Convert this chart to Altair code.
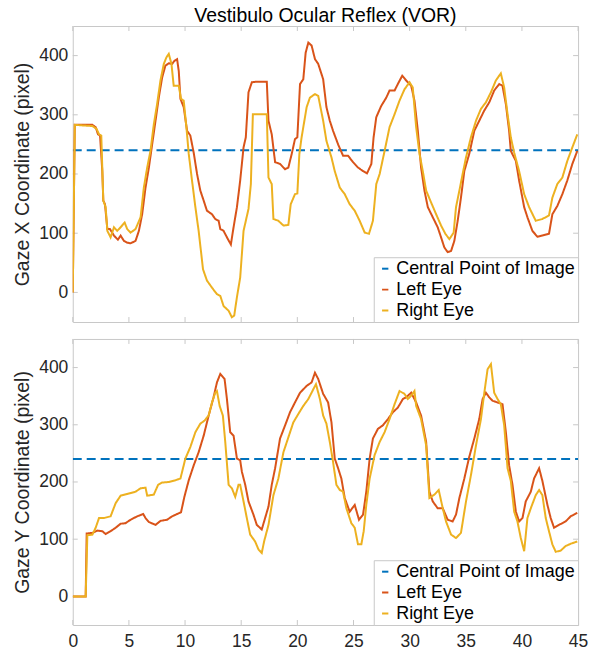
import altair as alt
import pandas as pd

FONT = "Liberation Sans"
BOX = "#c8c8c8"
TXT = "#262626"

X_TICKS = [0, 5, 10, 15, 20, 25, 30, 35, 40, 45]
Y_TICKS = [0, 100, 200, 300, 400]
CENTRAL = 240
SERIES = ["Central Point of Image", "Left Eye", "Right Eye"]
COLORS = ["#0072BD", "#D95319", "#EDB120"]
TITLE = "Vestibulo Ocular Reflex (VOR)"
YTITLE_TOP = "Gaze X Coordinate (pixel)"
YTITLE_BOT = "Gaze Y Coordinate (pixel)"

# (time, value) pairs
top_left = [
    (0.00, 0), (0.18, 283), (1.75, 283), (2.04, 279), (2.25, 267), (2.43, 265), (2.63, 205), (2.72, 155),
    (2.87, 149), (3.08, 107), (3.31, 107), (3.67, 96), (4.02, 89), (4.26, 96), (4.56, 87), (4.85, 84),
    (5.15, 83), (5.59, 87), (5.89, 104), (6.18, 132), (6.48, 177), (6.78, 211), (7.07, 250), (7.37, 290),
    (7.66, 329), (7.96, 363), (8.25, 383), (8.55, 387), (8.85, 386), (9.05, 391), (9.29, 394), (9.44, 374),
    (9.59, 327), (9.88, 313), (10.18, 273), (10.47, 265), (10.77, 236), (11.07, 200), (11.36, 172),
    (11.66, 155), (11.95, 138), (12.40, 132), (12.69, 124), (12.99, 121), (13.14, 107), (13.43, 104),
    (13.73, 93), (14.08, 81), (14.32, 110), (14.62, 144), (14.91, 189), (15.21, 245), (15.41, 262),
    (15.65, 338), (15.95, 355), (16.39, 356), (17.28, 356), (17.43, 290), (17.72, 267), (18.02, 220),
    (18.46, 217), (18.91, 208), (19.20, 211), (19.50, 234), (19.79, 259), (20.00, 262), (20.24, 352),
    (20.53, 360), (20.74, 405), (20.98, 422), (21.27, 417), (21.57, 394), (21.86, 386),
    (22.30, 360), (22.59, 313), (22.89, 290), (23.18, 273), (23.63, 250), (24.07, 231), (24.51, 231),
    (24.96, 220), (25.40, 211), (25.85, 205), (26.20, 201), (26.59, 217), (26.79, 262), (27.03, 296),
    (27.47, 315), (27.92, 329), (28.21, 341), (28.66, 341), (28.95, 352), (29.34, 366), (29.69, 358),
    (30.14, 349), (30.43, 324), (30.73, 273), (31.02, 211), (31.32, 172), (31.62, 144), (32.06, 127),
    (32.50, 110), (32.80, 93), (33.09, 76), (33.39, 68), (33.69, 70), (33.98, 87), (34.28, 121),
    (34.57, 160), (34.87, 205), (35.31, 234), (35.76, 273), (36.20, 290), (36.64, 307), (37.09, 321),
    (37.53, 341), (37.98, 352), (38.27, 349), (38.57, 318), (38.86, 273), (39.01, 239), (39.46, 222),
    (39.75, 189), (40.20, 144), (40.49, 127), (40.93, 104), (41.38, 94), (41.82, 96), (42.41, 99),
    (42.71, 132), (43.15, 146), (43.60, 166), (44.04, 189), (44.49, 217), (44.93, 239),
]

top_right = [
    (0.00, 0), (0.18, 283), (1.75, 281), (2.13, 276), (2.34, 267), (2.54, 265), (2.72, 155), (2.93, 144),
    (3.08, 104), (3.37, 93), (3.67, 110), (3.96, 104), (4.26, 110), (4.62, 118), (4.85, 107), (5.15, 101),
    (5.59, 107), (6.04, 127), (6.33, 177), (6.63, 211), (6.92, 239), (7.22, 284), (7.51, 318), (7.81, 358),
    (8.11, 386), (8.34, 397), (8.55, 403), (8.79, 386), (8.99, 349), (9.44, 349), (9.64, 327), (9.88, 324),
    (10.12, 279), (10.33, 234), (10.62, 189), (10.92, 144), (11.21, 104), (11.60, 39), (11.95, 20),
    (12.40, 8), (12.84, -3), (13.14, -6), (13.43, -23), (13.88, -31), (14.17, -42), (14.38, -39),
    (14.62, -8), (14.91, 25), (15.21, 104), (15.65, 141), (15.86, 183), (16.04, 301), (17.28, 301),
    (17.43, 194), (17.72, 183), (17.87, 124), (18.31, 121), (18.76, 113), (19.20, 114), (19.41, 149),
    (19.79, 166), (20.00, 167), (20.18, 234), (20.38, 262), (20.83, 313), (21.12, 329), (21.57, 335),
    (21.86, 332),
    (22.30, 290), (22.59, 256), (23.04, 228), (23.33, 205), (23.78, 177), (24.22, 166), (24.66, 149),
    (25.11, 138), (25.55, 121), (26.00, 101), (26.38, 99), (26.73, 121), (27.03, 183), (27.33, 200),
    (27.77, 239), (28.21, 279), (28.66, 301), (29.10, 324), (29.54, 343), (29.99, 355), (30.28, 346),
    (30.58, 279), (30.88, 234), (31.17, 205), (31.47, 172), (31.91, 152), (32.36, 132), (32.80, 113),
    (33.18, 99), (33.54, 90), (33.92, 101), (34.13, 144), (34.43, 172), (34.72, 200), (35.02, 228),
    (35.46, 262), (35.91, 290), (36.35, 310), (36.79, 321), (37.24, 338), (37.68, 358), (38.12, 370),
    (38.42, 346), (38.72, 301), (39.01, 262), (39.31, 236), (39.75, 205), (40.20, 166), (40.64, 144),
    (41.23, 121), (41.82, 124), (42.41, 130), (42.71, 160), (43.15, 183), (43.60, 194), (44.04, 222),
    (44.49, 245), (44.93, 267),
]

bottom_left = [
    (0.00, 0), (1.15, 0), (1.24, 110), (1.75, 111), (2.19, 115), (2.63, 114), (2.93, 109), (3.37, 114),
    (3.82, 120), (4.26, 127), (4.70, 128), (5.15, 134), (5.74, 140), (6.27, 144), (6.48, 137), (6.78, 130),
    (7.37, 125), (7.81, 132), (8.40, 134), (8.85, 140), (9.29, 144), (9.64, 147), (9.94, 174), (10.33, 203),
    (10.77, 229), (11.21, 252), (11.66, 281), (12.10, 316), (12.54, 348), (12.84, 374), (13.14, 389),
    (13.52, 380), (13.73, 345), (14.02, 287), (14.32, 281), (14.62, 241), (14.91, 238), (15.06, 218),
    (15.36, 195), (15.65, 166), (16.09, 143), (16.39, 125), (16.83, 117), (17.13, 137), (17.43, 157),
    (17.72, 195), (18.02, 224), (18.46, 276), (18.91, 299), (19.35, 322), (19.79, 339), (20.24, 356),
    (20.83, 368), (21.27, 374), (21.57, 391), (21.86, 380),
    (22.30, 354), (22.74, 339), (23.04, 304), (23.33, 241), (23.63, 224), (23.92, 206), (24.22, 172),
    (24.66, 148), (25.11, 160), (25.49, 134), (25.85, 143), (26.14, 183), (26.44, 241), (26.73, 276),
    (27.18, 293), (27.62, 299), (28.07, 310), (28.51, 322), (28.95, 330), (29.40, 345), (29.69, 348),
    (30.14, 356), (30.58, 339), (31.02, 316), (31.47, 270), (31.76, 183), (32.06, 166), (32.50, 154),
    (32.95, 154), (33.39, 134), (33.83, 131), (34.13, 143), (34.43, 172), (34.87, 206), (35.31, 244),
    (35.76, 276), (36.20, 310), (36.50, 345), (36.79, 356), (37.09, 348), (37.38, 342), (37.83, 339),
    (38.27, 336), (38.57, 287), (38.86, 229), (39.16, 195), (39.46, 148), (39.75, 131), (40.05, 137),
    (40.34, 166), (40.79, 183), (41.08, 206), (41.53, 224), (41.82, 202), (42.27, 160), (42.56, 137),
    (42.86, 120), (43.30, 125), (43.89, 131), (44.34, 140), (44.93, 146),
]

bottom_right = [
    (0.00, 0), (1.15, 0), (1.30, 107), (1.75, 108), (2.04, 120), (2.34, 137), (2.78, 137), (3.37, 140),
    (3.82, 163), (4.26, 176), (4.85, 179), (5.59, 183), (6.04, 189), (6.48, 190), (6.63, 176), (7.22, 178),
    (7.60, 195), (7.96, 199), (8.55, 200), (9.14, 203), (9.59, 206), (10.03, 241), (10.47, 261),
    (10.92, 287), (11.36, 302), (11.72, 307), (12.10, 316), (12.40, 339), (12.69, 356), (12.84, 359),
    (13.08, 333), (13.37, 316), (13.58, 270), (13.88, 195), (14.17, 189), (14.47, 174), (14.76, 195),
    (14.91, 195), (15.21, 166), (15.50, 137), (15.80, 108), (16.24, 96), (16.54, 82), (16.83, 76),
    (17.04, 96), (17.43, 125), (17.87, 177), (18.31, 206), (18.76, 252), (19.20, 278), (19.64, 304),
    (20.09, 319), (20.53, 333), (20.98, 345), (21.42, 362), (21.66, 371), (22.01, 345),
    (22.30, 316), (22.59, 302), (22.89, 270), (23.18, 235), (23.48, 195), (23.78, 186), (24.07, 183),
    (24.37, 154), (24.81, 128), (25.11, 120), (25.40, 91), (25.70, 91), (25.91, 114), (26.14, 160),
    (26.44, 206), (26.88, 247), (27.33, 270), (27.77, 287), (28.21, 310), (28.66, 336), (29.10, 359),
    (29.54, 354), (29.84, 345), (30.14, 351), (30.43, 359), (30.58, 333), (31.02, 310), (31.47, 264),
    (31.76, 172), (32.21, 178), (32.59, 186), (32.95, 154), (33.24, 131), (33.69, 108), (34.13, 102),
    (34.57, 111), (35.02, 166), (35.46, 212), (35.91, 264), (36.35, 310), (36.65, 356), (36.94, 397),
    (37.24, 406), (37.53, 356), (37.83, 345), (38.12, 336), (38.42, 299), (38.72, 224), (39.01, 202),
    (39.31, 148), (39.60, 131), (39.90, 102), (40.20, 79), (40.49, 137), (40.79, 154), (41.23, 177),
    (41.53, 186), (41.82, 177), (42.12, 137), (42.41, 114), (42.71, 91), (43.01, 78), (43.45, 80),
    (43.89, 88), (44.34, 92), (44.93, 96),
]

W = 507


def frame(left, right):
    rows = [{"t": X_TICKS[0], "v": CENTRAL, "s": SERIES[0]},
            {"t": X_TICKS[-1], "v": CENTRAL, "s": SERIES[0]}]
    rows += [{"t": t, "v": v, "s": SERIES[1]} for t, v in left]
    rows += [{"t": t, "v": v, "s": SERIES[2]} for t, v in right]
    return pd.DataFrame(rows)


def panel(df, height, ytitle, show_x, title=None):
    xs = alt.Scale(domain=[0, 45], nice=False, zero=False)
    ys = alt.Scale(domain=[-50, 450], nice=False, zero=False)
    if show_x:
        xaxis = alt.Axis(values=X_TICKS, ticks=False, domain=False, grid=False,
                         labelFontSize=17.5, labelFont=FONT, labelColor=TXT,
                         labelPadding=8, title=None, labelFlush=False)
    else:
        xaxis = None
    yaxis = alt.Axis(values=Y_TICKS, ticks=False, domain=False, grid=False,
                     labelFontSize=17.5, labelFont=FONT, labelColor=TXT, labelPadding=5,
                     title=ytitle, titleFontSize=19.5, titleFont=FONT, titleFontWeight="normal",
                     titleColor=TXT, titlePadding=6, labelFlush=False)
    leg = alt.Legend(title=None, orient="bottom-right", offset=0, fillColor="white",
                     strokeColor=BOX, padding=2.5, labelFontSize=18, labelFont=FONT,
                     labelColor="black", symbolType="stroke", symbolStrokeWidth=2,
                     symbolSize=40, rowPadding=3, labelOffset=2, labelLimit=0)
    lines = alt.Chart(df).mark_line(strokeWidth=2, clip=True).encode(
        x=alt.X("t:Q", scale=xs, axis=xaxis),
        y=alt.Y("v:Q", scale=ys, axis=yaxis),
        color=alt.Color("s:N", scale=alt.Scale(domain=SERIES, range=COLORS), legend=leg),
        strokeDash=alt.StrokeDash("s:N", scale=alt.Scale(domain=SERIES,
                                  range=[[9, 5], [1, 0], [1, 0]]), legend=leg),
    )
    xt = pd.DataFrame({"t": X_TICKS})
    yt = pd.DataFrame({"v": Y_TICKS})
    rule = alt.Chart(xt).mark_rule(color=BOX, strokeWidth=1)
    tick_top = rule.encode(x=alt.X("t:Q", scale=xs, axis=xaxis), y=alt.value(0), y2=alt.value(5))
    tick_bot = rule.encode(x=alt.X("t:Q", scale=xs, axis=xaxis), y=alt.value(height),
                           y2=alt.value(height - 5))
    rule_y = alt.Chart(yt).mark_rule(color=BOX, strokeWidth=1)
    tick_l = rule_y.encode(y=alt.Y("v:Q", scale=ys, axis=yaxis), x=alt.value(0), x2=alt.value(5))
    tick_r = rule_y.encode(y=alt.Y("v:Q", scale=ys, axis=yaxis), x=alt.value(W), x2=alt.value(W - 5))
    layer = alt.layer(tick_top, tick_bot, tick_l, tick_r, lines)
    props = dict(width=W, height=height)
    if title:
        props["title"] = alt.TitleParams(title, fontSize=19.5, font=FONT, fontWeight="normal",
                                         color="black", offset=-1, anchor="middle", frame="group")
    return layer.properties(**props)


top = panel(frame(top_left, top_right), 297, YTITLE_TOP, False, TITLE)
bottom = panel(frame(bottom_left, bottom_right), 287, YTITLE_BOT, True)

chart = alt.vconcat(top, bottom, spacing=15).resolve_legend(
    color="independent", strokeDash="independent"
).properties(
    padding={"left": 12, "top": 4, "right": 11, "bottom": 1},
    background="white",
).configure_view(stroke=BOX, strokeWidth=1)

chart.save("out.html", embed_options={"renderer": "svg", "actions": False})
